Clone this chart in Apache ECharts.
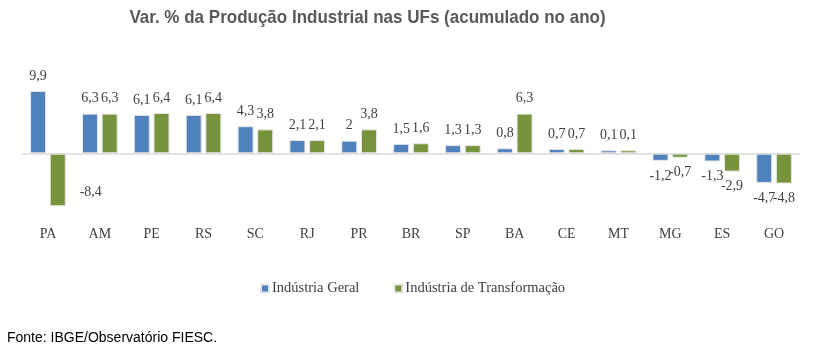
<!DOCTYPE html>
<html><head><meta charset="utf-8">
<script src="https://cdn.jsdelivr.net/npm/echarts@6/dist/echarts.min.js"></script>
<style>html,body{margin:0;padding:0;background:#fff}#c{width:822px;height:351px}</style>
</head><body><div id="c"></div>
<script>
const categories = ['PA','AM','PE','RS','SC','RJ','PR','BR','SP','BA','CE','MT','MG','ES','GO'];
const industriaGeral = [9.9, 6.3, 6.1, 6.1, 4.3, 2.1, 2, 1.5, 1.3, 0.8, 0.7, 0.1, -1.2, -1.3, -4.7];
const industriaTransformacao = [-8.4, 6.3, 6.4, 6.4, 3.8, 2.1, 3.8, 1.6, 1.3, 6.3, 0.7, 0.1, -0.7, -2.9, -4.8];
const seriesNames = ['Indústria Geral', 'Indústria de Transformação'];
const titleText = 'Var. % da Produção Industrial nas UFs (acumulado no ano)';
const sourceText = 'Fonte: IBGE/Observatório FIESC.';

const serif = '"Liberation Serif", "Times New Roman", serif';
const fmt = p => String(p.value).replace('.', ',');
const labelBase = {show: true, distance: 8, fontFamily: serif, fontSize: 14, color: '#404040', formatter: fmt};

const toItems = (arr, special) => arr.map((v, i) => {
  if (special && special[i]) return {value: v, label: special[i]};
  return {value: v, label: {position: v >= 0 ? 'top' : 'bottom'}};
});
const geralData = toItems(industriaGeral);
const transData = toItems(industriaTransformacao, {0: {position: 'bottom', offset: [33, -29]}});

const chart = echarts.init(document.getElementById('c'), null, {renderer: 'canvas'});
chart.setOption({
  animation: false,
  title: [
    {text: sourceText, left: 2, top: 326,
     textStyle: {fontFamily: '"Liberation Sans", Arial, sans-serif', fontWeight: 'normal', fontSize: 14, color: '#000'}}
  ],
  graphic: [
    {type: 'text', x: 367.5, y: 8, scaleX: 0.895, silent: true,
     style: {text: titleText, textAlign: 'center', textVerticalAlign: 'top',
       font: 'bold 19px "Liberation Sans", Arial, sans-serif', fill: '#595959'}}
  ],
  legend: {
    data: seriesNames, left: 255, top: 276, icon: 'rect', itemWidth: 8, itemHeight: 8, itemGap: 34,
    textStyle: {fontFamily: serif, fontSize: 14.5, color: '#404040', padding: [0,0,0,-2]}
  },
  grid: {left: 22, right: 22, top: 77.7, bottom: 134.7, containLabel: false},
  xAxis: {
    type: 'category', data: categories,
    axisLine: {show: false}, axisTick: {show: false},
    axisLabel: {fontFamily: serif, fontSize: 14, color: '#404040', margin: 11}
  },
  yAxis: {type: 'value', min: -10, max: 12, show: false, splitLine: {show: false}},
  series: [
    {name: seriesNames[0], type: 'bar', data: geralData, barWidth: 16, barGap: '23%', barMinHeight: 3,
     itemStyle: {color: '#4F81BD', borderColor: '#e6e6e6', borderWidth: 1}, label: labelBase,
     markLine: {silent: true, symbol: 'none', label: {show: false}, lineStyle: {color: '#d9d9d9', type: 'solid', width: 1.5},
       data: [{yAxis: 0}]}},
    {name: seriesNames[1], type: 'bar', data: transData, barWidth: 16, barGap: '23%', barMinHeight: 3,
     itemStyle: {color: '#77933C', borderColor: '#e6e6e6', borderWidth: 1}, label: labelBase}
  ]
});
</script></body></html>
